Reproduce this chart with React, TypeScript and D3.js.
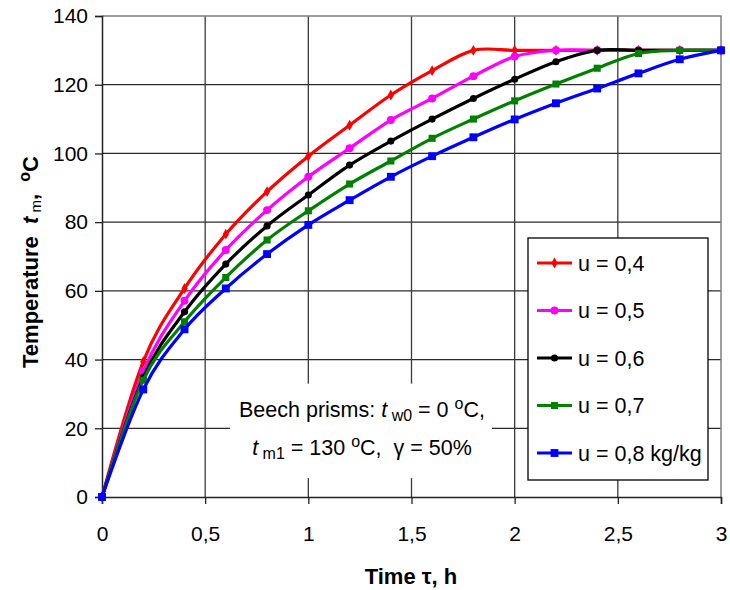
import React, { useRef, useEffect } from "react";
import * as d3 from "d3";

// time points, h
const times = [0, 0.2, 0.4, 0.6, 0.8, 1.0, 1.2, 1.4, 1.6, 1.8, 2.0, 2.2, 2.4, 2.6, 2.8, 3.0];

// temperature of the material, °C
const u04 = [0, 39.4, 60.7, 76.5, 88.9, 99.2, 108.2, 117, 124.1, 130, 130, 130, 130, 130, 130, 130];
const u05 = [0, 36.5, 57.1, 71.9, 83.5, 93.2, 101.5, 109.7, 116, 122.5, 128.2, 130, 130, 130, 130, 130];
const u06 = [0, 34.8, 53.9, 67.8, 78.9, 87.9, 96.6, 103.6, 110, 116, 121.6, 126.7, 130, 130, 130, 130];
const u07 = [0, 34, 51, 63.9, 74.8, 83.3, 91.1, 97.8, 104.4, 110, 115.3, 120.2, 124.8, 129.1, 130, 130];
const u08 = [0, 31.3, 48.8, 60.7, 70.7, 79.2, 86.4, 93.2, 99.2, 104.7, 109.9, 114.6, 118.9, 123.3, 127.4, 130];

const seriesNames = ["u = 0,4", "u = 0,5", "u = 0,6", "u = 0,7", "u = 0,8 kg/kg"];
const seriesValues = [u04, u05, u06, u07, u08];

const xTicks = [0, 0.5, 1, 1.5, 2, 2.5, 3];
const yTicks = [0, 20, 40, 60, 80, 100, 120, 140];

const colors = ["#ff0000", "#ff00ff", "#000000", "#008000", "#0000ff"];
const symbols = [d3.symbolDiamond, d3.symbolCircle, d3.symbolCircle, d3.symbolSquare, d3.symbolSquare];
const symbolSizes = [34, 50, 40, 50, 62];

const FONT = "'Liberation Sans', Arial, sans-serif";

const App = () => {
  const svgRef = useRef<SVGSVGElement>(null);

  useEffect(() => {
    const svg = d3.select(svgRef.current);
    svg.selectAll("*").remove();

    const margin = { top: 16, right: 9, bottom: 93, left: 102 };
    const width = 730;
    const height = 590;
    const innerWidth = width - margin.left - margin.right;
    const innerHeight = height - margin.top - margin.bottom;

    const x = d3.scaleLinear().domain([0, 3]).range([0, innerWidth]);
    const y = d3.scaleLinear().domain([0, 140]).range([innerHeight, 0]);

    const g = svg
      .append("g")
      .attr("transform", `translate(${margin.left},${margin.top})`);

    // gridlines
    g.append("g")
      .selectAll("line")
      .data(yTicks.slice(1, -1))
      .join("line")
      .attr("x1", 0)
      .attr("x2", innerWidth)
      .attr("y1", (d) => y(d))
      .attr("y2", (d) => y(d))
      .attr("stroke", "#2a2a2a")
      .attr("stroke-width", 1.3);

    g.append("g")
      .selectAll("line")
      .data(xTicks.slice(1, -1))
      .join("line")
      .attr("x1", (d) => x(d))
      .attr("x2", (d) => x(d))
      .attr("y1", 0)
      .attr("y2", innerHeight)
      .attr("stroke", "#3a3a3a")
      .attr("stroke-width", 1.3);

    // plot border (top / right)
    g.append("path")
      .attr("d", `M0,0H${innerWidth}V${innerHeight}`)
      .attr("fill", "none")
      .attr("stroke", "#808080")
      .attr("stroke-width", 1.5);

    // axes
    const yAxis = g
      .append("g")
      .call(d3.axisLeft(y).tickValues(yTicks).tickSize(7).tickPadding(7).tickFormat(d3.format("d")));
    const xAxis = g
      .append("g")
      .attr("transform", `translate(0,${innerHeight})`)
      .call(
        d3
          .axisBottom(x)
          .tickValues(xTicks)
          .tickSize(7)
          .tickPadding(22)
          .tickFormat((d) => String(d).replace(".", ","))
      );
    [yAxis, xAxis].forEach((a) => {
      a.select(".domain").attr("stroke", "#222").attr("stroke-width", 1.5);
      a.selectAll(".tick line").attr("stroke", "#222").attr("stroke-width", 1.3);
      a.selectAll("text")
        .attr("fill", "#000")
        .style("font-family", FONT)
        .style("font-size", "21px");
    });

    // annotation box
    const note = g.append("g");
    note
      .append("rect")
      .attr("x", x(0.62))
      .attr("y", y(33))
      .attr("width", x(1.27) - x(0))
      .attr("height", y(0) - y(27.5))
      .attr("fill", "#fff");
    const noteX = x(1.26);
    const t1 = note
      .append("text")
      .attr("x", noteX)
      .attr("y", y(23.3))
      .attr("text-anchor", "middle")
      .style("white-space", "pre")
      .style("font-family", FONT)
      .style("font-size", "21.5px");
    t1.append("tspan").text("Beech prisms: ");
    t1.append("tspan").attr("font-style", "italic").text("t");
    t1.append("tspan").attr("font-size", "16px").attr("dy", 4).text(" w0");
    t1.append("tspan").attr("dy", -4).text(" = 0 ");
    t1.append("tspan").attr("font-size", "16px").attr("dy", -8).text("o");
    t1.append("tspan").attr("dy", 8).text("C,");
    const t2 = note
      .append("text")
      .attr("x", noteX)
      .attr("y", y(12.2))
      .attr("text-anchor", "middle")
      .style("white-space", "pre")
      .style("font-family", FONT)
      .style("font-size", "21.5px");
    t2.append("tspan").attr("font-style", "italic").text("t");
    t2.append("tspan").attr("font-size", "16px").attr("dy", 4).text(" m1");
    t2.append("tspan").attr("dy", -4).text(" = 130 ");
    t2.append("tspan").attr("font-size", "16px").attr("dy", -8).text("o");
    t2.append("tspan").attr("dy", 8).text("C,  \u03b3 = 50%");

    // series
    const line = d3
      .line<number>()
      .x((d, i) => x(times[i]))
      .y((d) => y(d))
      .curve(d3.curveCatmullRom.alpha(0));

    seriesValues.forEach((vals, si) => {
      const sg = g.append("g");
      sg.append("path")
        .datum(vals)
        .attr("d", line)
        .attr("fill", "none")
        .attr("stroke", colors[si])
        .attr("stroke-width", 3.2);
      sg.selectAll("path.m")
        .data(vals)
        .join("path")
        .attr("class", "m")
        .attr("transform", (d, i) => `translate(${x(times[i])},${y(d)})`)
        .attr("d", d3.symbol().type(symbols[si]).size(symbolSizes[si])())
        .attr("fill", colors[si]);
    });

    // legend
    const lx = 528 - margin.left;
    const ly = 238 - margin.top;
    const legend = g.append("g").attr("transform", `translate(${lx},${ly})`);
    legend
      .append("rect")
      .attr("width", 180)
      .attr("height", 242)
      .attr("fill", "#fff")
      .attr("stroke", "#000")
      .attr("stroke-width", 1.3);
    const items = legend
      .selectAll("g.item")
      .data(seriesNames)
      .join("g")
      .attr("class", "item")
      .attr("transform", (d, i) => `translate(0,${25 + i * 47.5})`);
    items
      .append("line")
      .attr("x1", 9)
      .attr("x2", 44)
      .attr("stroke", (d, i) => colors[i])
      .attr("stroke-width", 3.2);
    items
      .append("path")
      .attr("transform", "translate(26.5,0)")
      .attr("d", (d, i) => d3.symbol().type(symbols[i]).size(symbolSizes[i])())
      .attr("fill", (d, i) => colors[i]);
    items
      .append("text")
      .attr("x", 50)
      .attr("y", 7.5)
      .style("font-family", FONT)
      .style("font-size", "21.5px")
      .text((d) => d);

    // axis titles
    svg
      .append("text")
      .attr("x", 411)
      .attr("y", 584)
      .attr("text-anchor", "middle")
      .style("font-family", FONT)
      .style("font-size", "22px")
      .style("font-weight", "bold")
      .text("Time \u03c4, h");

    const yt = svg
      .append("text")
      .attr("transform", "translate(38,262) rotate(-90)")
      .attr("text-anchor", "middle")
      .style("white-space", "pre")
      .style("font-family", FONT)
      .style("font-size", "22px")
      .style("font-weight", "bold");
    yt.append("tspan").text("Temperature  ");
    yt.append("tspan").attr("font-style", "italic").text("t");
    yt.append("tspan").attr("font-size", "15px").attr("font-weight", "normal").attr("dy", 3).text(" m");
    yt.append("tspan").attr("dy", -3).text(",  ");
    yt.append("tspan").attr("font-size", "16px").attr("dy", -8).text("o");
    yt.append("tspan").attr("dy", 8).text("C");
  }, []);

  return (
    <svg
      ref={svgRef}
      width={730}
      height={590}
      style={{ position: "absolute", left: 0, top: 0, background: "#fff" }}
    ></svg>
  );
};

export default App;
